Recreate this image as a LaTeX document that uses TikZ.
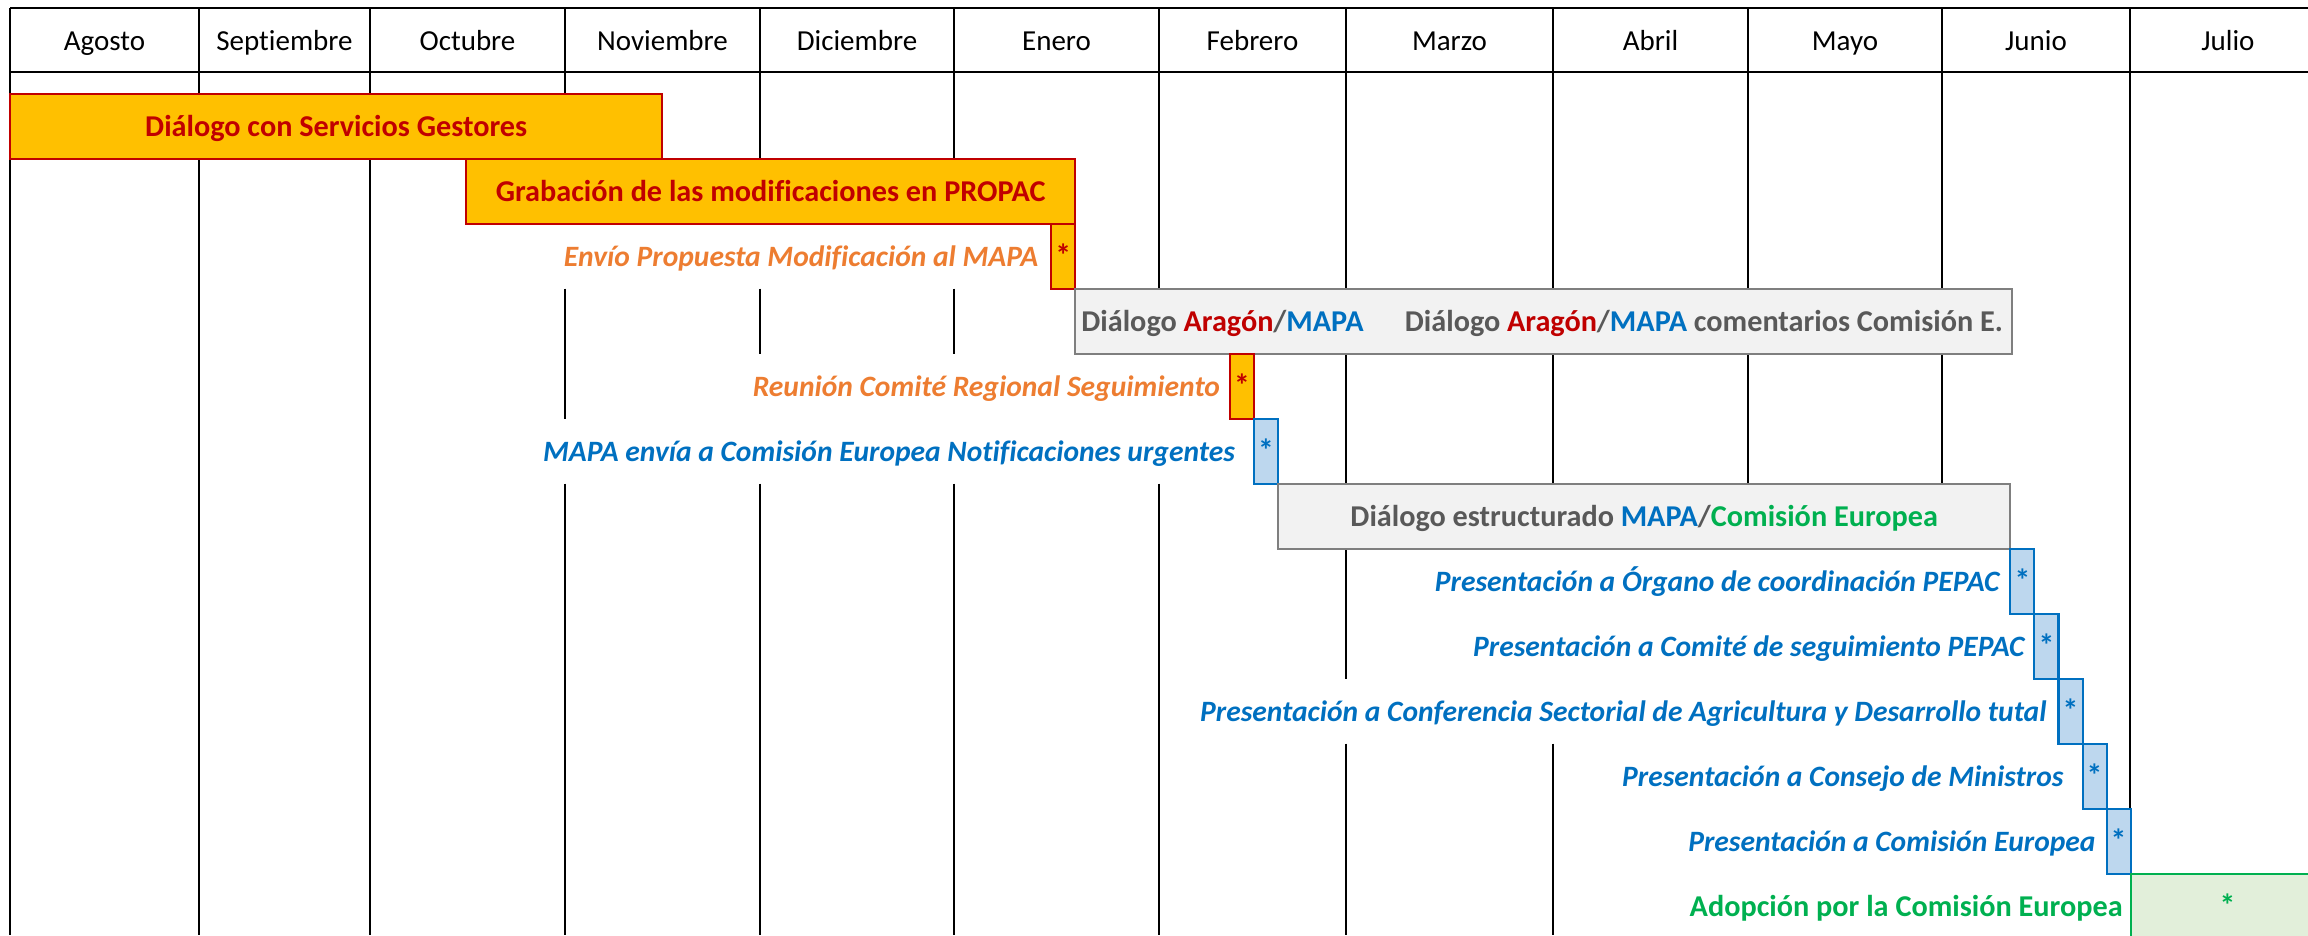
\documentclass[tikz,border=0pt]{standalone}
\usepackage{fontspec}
\setmainfont{Carlito}[Ligatures={TeX,NoCommon}]
\usepackage{tikz}
\usetikzlibrary{positioning}

\definecolor{naranja}{HTML}{FFC000}
\definecolor{rojo}{HTML}{C00000}
\definecolor{naranjatexto}{HTML}{ED7D31}
\definecolor{azul}{HTML}{0070C0}
\definecolor{azulclaro}{HTML}{BDD7EE}
\definecolor{gris}{HTML}{F2F2F2}
\definecolor{grisborde}{HTML}{7F7F7F}
\definecolor{gristexto}{HTML}{595959}
\definecolor{verde}{HTML}{00B050}
\definecolor{verdeclaro}{HTML}{E2EFDA}

\tikzset{
  linea/.style={line width=0.02cm},
  txt/.style={inner sep=0pt, outer sep=0pt, text height=6.4pt, text depth=0.4pt, font=\fontsize{8.25}{10}\selectfont},
  mes/.style={txt},
  barra/.style={txt, anchor=north west, line width=0.02cm, minimum height=0.65cm, font=\fontsize{8.6}{10}\selectfont\bfseries},
  barranaranja/.style={barra, draw=rojo, fill=naranja, text=rojo},
  barragris/.style={barra, draw=grisborde, fill=gris, text=gristexto},
  hito/.style={txt, line width=0.02cm, minimum width=0.24cm, minimum height=0.65cm, font=\fontsize{9}{10}\selectfont\bfseries},
  hitonaranja/.style={hito, draw=rojo, fill=naranja, text=rojo},
  hitoazul/.style={hito, draw=azul, fill=azulclaro, text=azul},
  hitoverde/.style={hito, draw=verde, fill=verdeclaro, text=verde},
  tarea/.style={txt, font=\fontsize{8.4}{10}\selectfont\bfseries\itshape},
}

\begin{document}
\begin{tikzpicture}[x=0.01cm,y=-0.01cm]
\path[use as bounding box] (0,0) rectangle (2308,935);
\clip (0,0) rectangle (2308,935);

% cabecera
\draw[linea] (10,8) -- (2308,8);
\draw[linea] (10,72) -- (2308,72);
\foreach \m/\a/\b in {Agosto/10/199, Septiembre/199/370, Octubre/370/565, Noviembre/565/760,
  Diciembre/760/954, Enero/954/1159, Febrero/1159/1346, Marzo/1346/1553, Abril/1553/1748,
  Mayo/1748/1942, Junio/1942/2130, Julio/2130/2326}
  \node[mes] (\m) at ({(\a+\b)/2},40) {\m};

% columnas
\draw[linea] (10,8) -- (10,935);
\draw[linea] (199,8) -- (199,935);
\draw[linea] (370,8) -- (370,935);
\draw[linea] (565,8) -- (565,223.5) (565,288.5) -- (565,418.5) (565,483.5) -- (565,935);
\draw[linea] (760,8) -- (760,223.5) (760,288.5) -- (760,353.5) (760,483.5) -- (760,935);
\draw[linea] (954,8) -- (954,223.5) (954,288.5) -- (954,353.5) (954,483.5) -- (954,935);
\draw[linea] (1159,8) -- (1159,353.5) (1159,483.5) -- (1159,935);
\draw[linea] (1346,8) -- (1346,678.5) (1346,743.5) -- (1346,935);
\draw[linea] (1553,8) -- (1553,548.5) (1553,743.5) -- (1553,935);
\draw[linea] (1748,8) -- (1748,548.5);
\draw[linea] (1942,8) -- (1942,548.5);
\draw[linea] (2130,8) -- (2130,873.5);

\node[barranaranja, minimum width=6.52cm] (servicios) at (10,93.5) {Diálogo con Servicios Gestores};
\node[barranaranja, minimum width=6.09cm] (grabacion) at (466,158.5) {Grabación de las modificaciones en PROPAC};
\node[hitonaranja, below left=0cm of grabacion.south east] (enviohito) {*};
\node[tarea, text=naranjatexto, left=0.13cm of enviohito] (envio) {Envío Propuesta Modificación al MAPA};

\node[barragris, minimum width=9.36cm, below right=0cm of enviohito] (aragon) {};
\node[barra, text=gristexto, anchor=west] (aragon1) at ([xshift=0.06cm]aragon.west)
  {Diálogo {\color{rojo}Aragón}/{\color{azul}MAPA}};
\node[barra, text=gristexto, anchor=east] (aragon2) at ([xshift=-0.09cm]aragon.east)
  {Diálogo {\color{rojo}Aragón}/{\color{azul}MAPA} comentarios Comisión E.};

\node[hitonaranja, anchor=north west] (reunionhito) at (1230,353.5) {*};
\node[tarea, text=naranjatexto, left=0.10cm of reunionhito] (reunion) {Reunión Comité Regional Seguimiento};
\node[hitoazul, below right=0cm of reunionhito] (mapahito) {*};
\node[tarea, text=azul, left=0.19cm of mapahito] (mapa) {MAPA envía a Comisión Europea Notificaciones urgentes};

\node[barragris, minimum width=7.32cm, below right=0cm of mapahito] (estructurado)
  {Diálogo estructurado {\color{azul}MAPA}/{\color{verde}Comisión Europea}};

\node[hitoazul, below right=0cm of estructurado] (organohito) {*};
\node[tarea, text=azul, left=0.11cm of organohito] (organo) {Presentación a Órgano de coordinación PEPAC};
\node[hitoazul, below right=0cm of organohito] (comitehito) {*};
\node[tarea, text=azul, left=0.10cm of comitehito] (comite) {Presentación a Comité de seguimiento PEPAC};
\node[hitoazul, below right=0cm of comitehito] (conferenciahito) {*};
\node[tarea, text=azul, left=0.12cm of conferenciahito] (conferencia) {Presentación a Conferencia Sectorial de Agricultura y Desarrollo tutal};
\node[hitoazul, below right=0cm of conferenciahito] (consejohito) {*};
\node[tarea, text=azul, left=0.19cm of consejohito] (consejo) {Presentación a Consejo de Ministros};
\node[hitoazul, below right=0cm of consejohito] (comisionhito) {*};
\node[tarea, text=azul, left=0.11cm of comisionhito] (comision) {Presentación a Comisión Europea};

\node[hitoverde, minimum width=1.94cm, below right=0cm of comisionhito] (adopcionhito) {*};
\node[tarea, font=\fontsize{8.6}{10}\selectfont\bfseries, text=verde, left=0.08cm of adopcionhito] (adopcion) {Adopción por la Comisión Europea};
\end{tikzpicture}
\end{document}
